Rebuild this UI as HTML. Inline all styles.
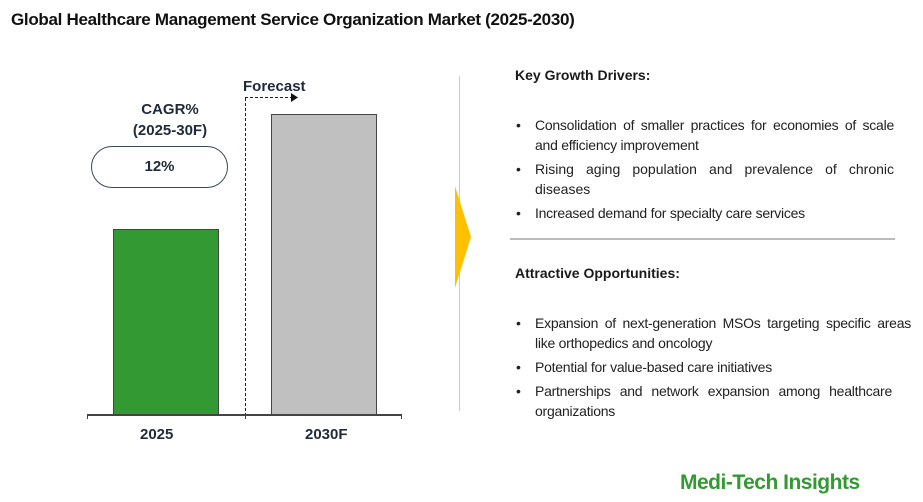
<!DOCTYPE html>
<html><head><style>
body{margin:0;width:923px;height:502px;background:#fff;font-family:"Liberation Sans",Arial,sans-serif;color:#1a1a1a;position:relative;overflow:hidden}
.a{position:absolute}
.b{font-weight:bold}
ul{position:absolute;margin:0;padding:0;list-style:none;left:516px;width:378px;font-size:14px;line-height:20px;color:#222;letter-spacing:-0.25px}
li{position:relative;padding-left:19px;text-align:justify;margin-bottom:4px}
li:before{content:"•";position:absolute;left:0;top:0}
</style></head><body>
<div class="a b" style="left:11px;top:10px;font-size:17px;color:#111;letter-spacing:-0.3px">Global Healthcare Management Service Organization Market (2025-2030)</div>
<div class="a b" style="left:90px;top:99px;width:160px;text-align:center;font-size:15px;line-height:21px;color:#1f2a3a">CAGR%<br>(2025-30F)</div>
<div class="a b" style="left:91px;top:146px;width:135px;height:40px;border:1px solid #3a4a5a;border-radius:21px;text-align:center;line-height:40px;font-size:15px;color:#1f2a3a">12%</div>
<div class="a b" style="left:243px;top:78px;font-size:15px;color:#1f2a3a">Forecast</div>
<svg class="a" style="left:0;top:0" width="923" height="502">
<line x1="245.5" y1="98" x2="245.5" y2="414" stroke="#222" stroke-dasharray="3,2"/>
<line x1="245" y1="97.5" x2="292" y2="97.5" stroke="#222" stroke-dasharray="3,2"/>
<polygon points="291,93 298,97.5 291,102" fill="#111"/>
<rect x="113.5" y="229.5" width="105" height="185" fill="#339933" stroke="#444"/>
<rect x="271.5" y="114.5" width="105" height="300" fill="#c0c0c0" stroke="#444"/>
<line x1="87" y1="415" x2="402" y2="415" stroke="#444" stroke-width="2"/>
<line x1="87.5" y1="414" x2="87.5" y2="419" stroke="#444"/>
<line x1="245.5" y1="414" x2="245.5" y2="419" stroke="#444"/>
<line x1="401.5" y1="414" x2="401.5" y2="419" stroke="#444"/>
<line x1="459.5" y1="76" x2="459.5" y2="411" stroke="#ccc"/>
<polygon points="455,186 471,237 455,288" fill="#ffc000"/>
<line x1="510" y1="239" x2="895" y2="239" stroke="#bbb" stroke-width="2"/>
</svg>
<div class="a b" style="left:140px;top:426px;font-size:15px;color:#1f2a3a">2025</div>
<div class="a b" style="left:305px;top:426px;font-size:15px;color:#1f2a3a">2030F</div>
<div class="a b" style="left:515px;top:67px;font-size:14px">Key Growth Drivers:</div>
<ul style="top:115px">
<li>Consolidation of smaller practices for economies of scale and efficiency improvement</li>
<li style="letter-spacing:0">Rising aging population and prevalence of chronic diseases</li>
<li>Increased demand for specialty care services</li>
</ul>
<div class="a b" style="left:515px;top:265px;font-size:14px">Attractive Opportunities:</div>
<ul style="top:313px;width:395px">
<li>Expansion of next-generation MSOs targeting specific areas like orthopedics and oncology</li>
<li>Potential for value-based care initiatives</li>
<li style="width:357px">Partnerships and network expansion among healthcare organizations</li>
</ul>
<div class="a b" style="left:680px;top:471px;font-size:21px;color:#339933;letter-spacing:-0.5px">Medi-Tech Insights</div>
</body></html>
